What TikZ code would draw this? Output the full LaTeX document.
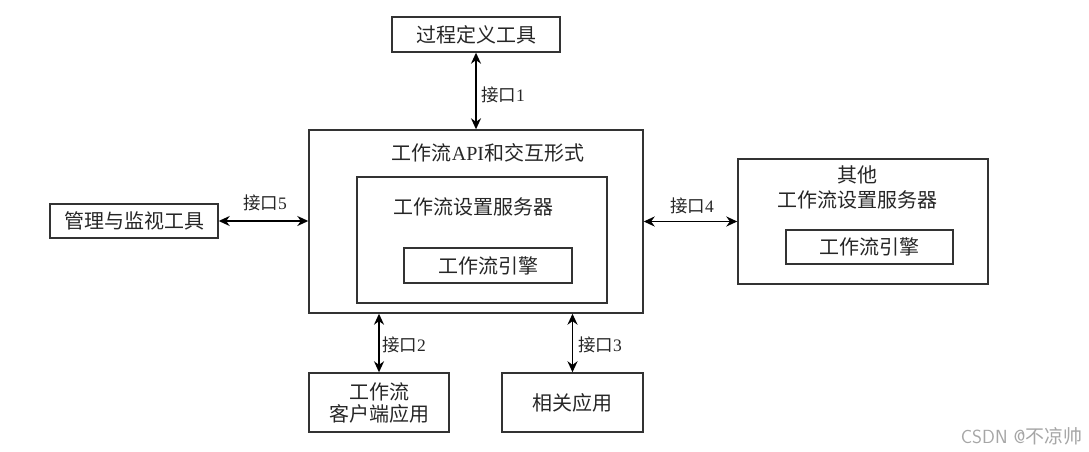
\documentclass[tikz,border=0pt]{standalone}
\usepackage{fontspec}
\setmainfont{Liberation Serif}
\newfontfamily\cjk{Noto Sans CJK SC}
\usetikzlibrary{arrows.meta}
\tikzset{
  box/.style={draw=black!80, line width=1.4pt, rectangle, inner sep=0pt},
  lbl/.style={font=\fontsize{20}{24}\selectfont\cjk, text=black!85, align=center},
  ilbl/.style={font=\fontsize{17.5}{20}\selectfont, text=black!85, inner sep=1pt},
  conn/.style={line width=1.8pt, {Stealth[length=11pt,width=10pt]}-{Stealth[length=11pt,width=10pt]}},
}
\newcommand{\jk}[1]{{\cjk 接口}#1}
\begin{document}
\begin{tikzpicture}[x=1pt,y=-1pt]
\useasboundingbox (0,0) rectangle (1089,452);
% boxes
\node[box, minimum width=168pt, minimum height=35pt] (tool) at (476,34.5) {};
\node[box, minimum width=334pt, minimum height=183pt] (main) at (476,221.5) {};
\node[box, minimum width=250pt, minimum height=126pt] (inner) at (482,240) {};
\node[box, minimum width=168pt, minimum height=35pt] (engine) at (488,265.5) {};
\node[box, minimum width=168pt, minimum height=34pt] (mgmt) at (134,221) {};
\node[box, minimum width=250pt, minimum height=125pt] (other) at (863,221.5) {};
\node[box, minimum width=167pt, minimum height=34pt] (oengine) at (869.5,247) {};
\node[box, minimum width=140pt, minimum height=59pt] (client) at (379,402.5) {};
\node[box, minimum width=141pt, minimum height=59pt] (related) at (572.5,402.5) {};
% texts
\node[lbl] (tooltxt) at (476,34.5) {过程定义工具};
\node[lbl] (maintxt) at (488,153) {工作流{\rmfamily API}和交互形式};
\node[lbl] (innertxt) at (473,207) {工作流设置服务器};
\node[lbl] (enginetxt) at (488,266) {工作流引擎};
\node[lbl] (mgmttxt) at (134,221) {管理与监视工具};
\node[lbl, font=\fontsize{20}{25}\selectfont\cjk] (othertxt) at (857,187) {其他\\工作流设置服务器};
\node[lbl] (oenginetxt) at (869.5,247) {工作流引擎};
\node[lbl, font=\fontsize{20}{22}\selectfont\cjk] (clienttxt) at (379,403) {工作流\\客户端应用};
\node[lbl] (relatedtxt) at (572.5,402.5) {相关应用};
% connectors
\draw[conn] (tool.south) -- (tool.south |- main.north);
\draw[conn] (mgmt.east) -- (mgmt.east -| main.west);
\draw[conn] (main.east |- other.west) -- (other.west);
\draw[conn] (client.north) -- (client.north |- main.south);
\draw[conn] (related.north) -- (related.north |- main.south);
% labels
\node[ilbl, anchor=west] (l1) at (480,95) {\jk{1}};
\node[ilbl] (l5) at (265,203) {\jk{5}};
\node[ilbl] (l4) at (692,206) {\jk{4}};
\node[ilbl, anchor=west] (l2) at (381,345) {\jk{2}};
\node[ilbl, anchor=west] (l3) at (577,345) {\jk{3}};
% watermark
\node[font=\fontsize{19}{22}\selectfont\sffamily, text=black!35, anchor=east] (wm) at (1086,436) {CSDN @{\cjk 不凉帅}};
\end{tikzpicture}
\end{document}
